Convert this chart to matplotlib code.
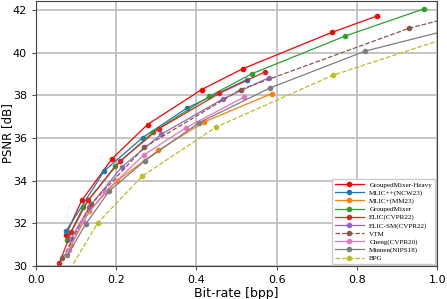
import matplotlib.pyplot as plt

# Rate-distortion points (bpp, PSNR dB)
heavy_bpp = [0.075, 0.114, 0.190, 0.278, 0.413, 0.516, 0.739, 0.849]
heavy_psnr = [31.48, 33.08, 35.04, 36.64, 38.28, 39.26, 40.97, 41.72]

mlicpp_bpp = [0.075, 0.170, 0.266, 0.376, 0.525]
mlicpp_psnr = [31.64, 34.46, 36.03, 37.41, 38.74]

mlicp_bpp = [0.088, 0.133, 0.201, 0.305, 0.419, 0.588]
mlicp_psnr = [31.00, 32.59, 33.98, 35.43, 36.76, 38.09]

gm_bpp = [0.077, 0.118, 0.197, 0.291, 0.432, 0.538, 0.771, 0.968]
gm_psnr = [31.22, 32.78, 34.68, 36.28, 37.96, 39.02, 40.79, 42.07]

elic_bpp = [0.058, 0.088, 0.130, 0.209, 0.307, 0.457, 0.571]
elic_psnr = [30.13, 31.61, 33.09, 34.92, 36.45, 38.10, 39.11]

elicsm_bpp = [0.087, 0.133, 0.214, 0.312, 0.466, 0.581]
elicsm_psnr = [31.28, 32.78, 34.65, 36.18, 37.84, 38.84]

vtm_bpp = [0.066, 0.137, 0.270, 0.510, 0.931, 1.200]
vtm_psnr = [30.36, 32.90, 35.57, 38.28, 41.16, 42.45]

cheng_bpp = [0.082, 0.116, 0.172, 0.268, 0.373, 0.519]
cheng_psnr = [30.75, 32.11, 33.48, 35.20, 36.48, 37.93]

minnen_bpp = [0.078, 0.124, 0.182, 0.272, 0.407, 0.583, 0.820, 1.150]
minnen_psnr = [30.50, 31.97, 33.51, 34.95, 36.73, 38.35, 40.08, 41.65]

bpg_bpp = [0.085, 0.154, 0.265, 0.448, 0.740, 1.150]
bpg_psnr = [29.85, 32.03, 34.22, 36.51, 38.95, 41.47]

series = [
    ("GroupedMixer-Heavy", heavy_bpp, heavy_psnr, "#ff0000", "-"),
    ("MLIC++(NCW23)", mlicpp_bpp, mlicpp_psnr, "tab:blue", "-"),
    ("MLIC+(MM23)", mlicp_bpp, mlicp_psnr, "tab:orange", "-"),
    ("GroupedMixer", gm_bpp, gm_psnr, "tab:green", "-"),
    ("ELIC(CVPR22)", elic_bpp, elic_psnr, "tab:red", "-"),
    ("ELIC-SM(CVPR22)", elicsm_bpp, elicsm_psnr, "tab:purple", "-"),
    ("VTM", vtm_bpp, vtm_psnr, "tab:brown", "--"),
    ("Cheng(CVPR20)", cheng_bpp, cheng_psnr, "tab:pink", "-"),
    ("Minnen(NIPS18)", minnen_bpp, minnen_psnr, "tab:gray", "-"),
    ("BPG", bpg_bpp, bpg_psnr, "tab:olive", "--"),
]

fig = plt.figure(figsize=(4.47, 2.99), dpi=100)
ax = fig.add_axes([0.0805, 0.110, 0.8975, 0.888])

for name, x, y, c, ls in series:
    ax.plot(x, y, ls, color=c, marker="o", markersize=3, linewidth=0.9, label=name)

ax.set_xlim(0, 1.0)
ax.set_ylim(30, 42.45)
ax.set_xticks([0.0, 0.2, 0.4, 0.6, 0.8, 1.0])
ax.set_yticks([30, 32, 34, 36, 38, 40, 42])
ax.grid(True, color="#c0c0c0", linewidth=1.3)
ax.set_axisbelow(True)
ax.tick_params(labelsize=8, length=3, color="#555555")
for s in ax.spines.values():
    s.set_color("#444444")
ax.set_xlabel("Bit-rate [bpp]", fontsize=9, labelpad=1)
ax.set_ylabel("PSNR [dB]", fontsize=8.5)
ax.yaxis.set_label_coords(-0.054, 0.5)

ax.legend(loc="lower right", prop={"family": "Liberation Serif", "size": 5.1},
          handlelength=4.0, borderaxespad=0.3, labelspacing=0.28, framealpha=1,
          edgecolor="#cccccc", fancybox=False)

fig.savefig("out.png", dpi=100)
